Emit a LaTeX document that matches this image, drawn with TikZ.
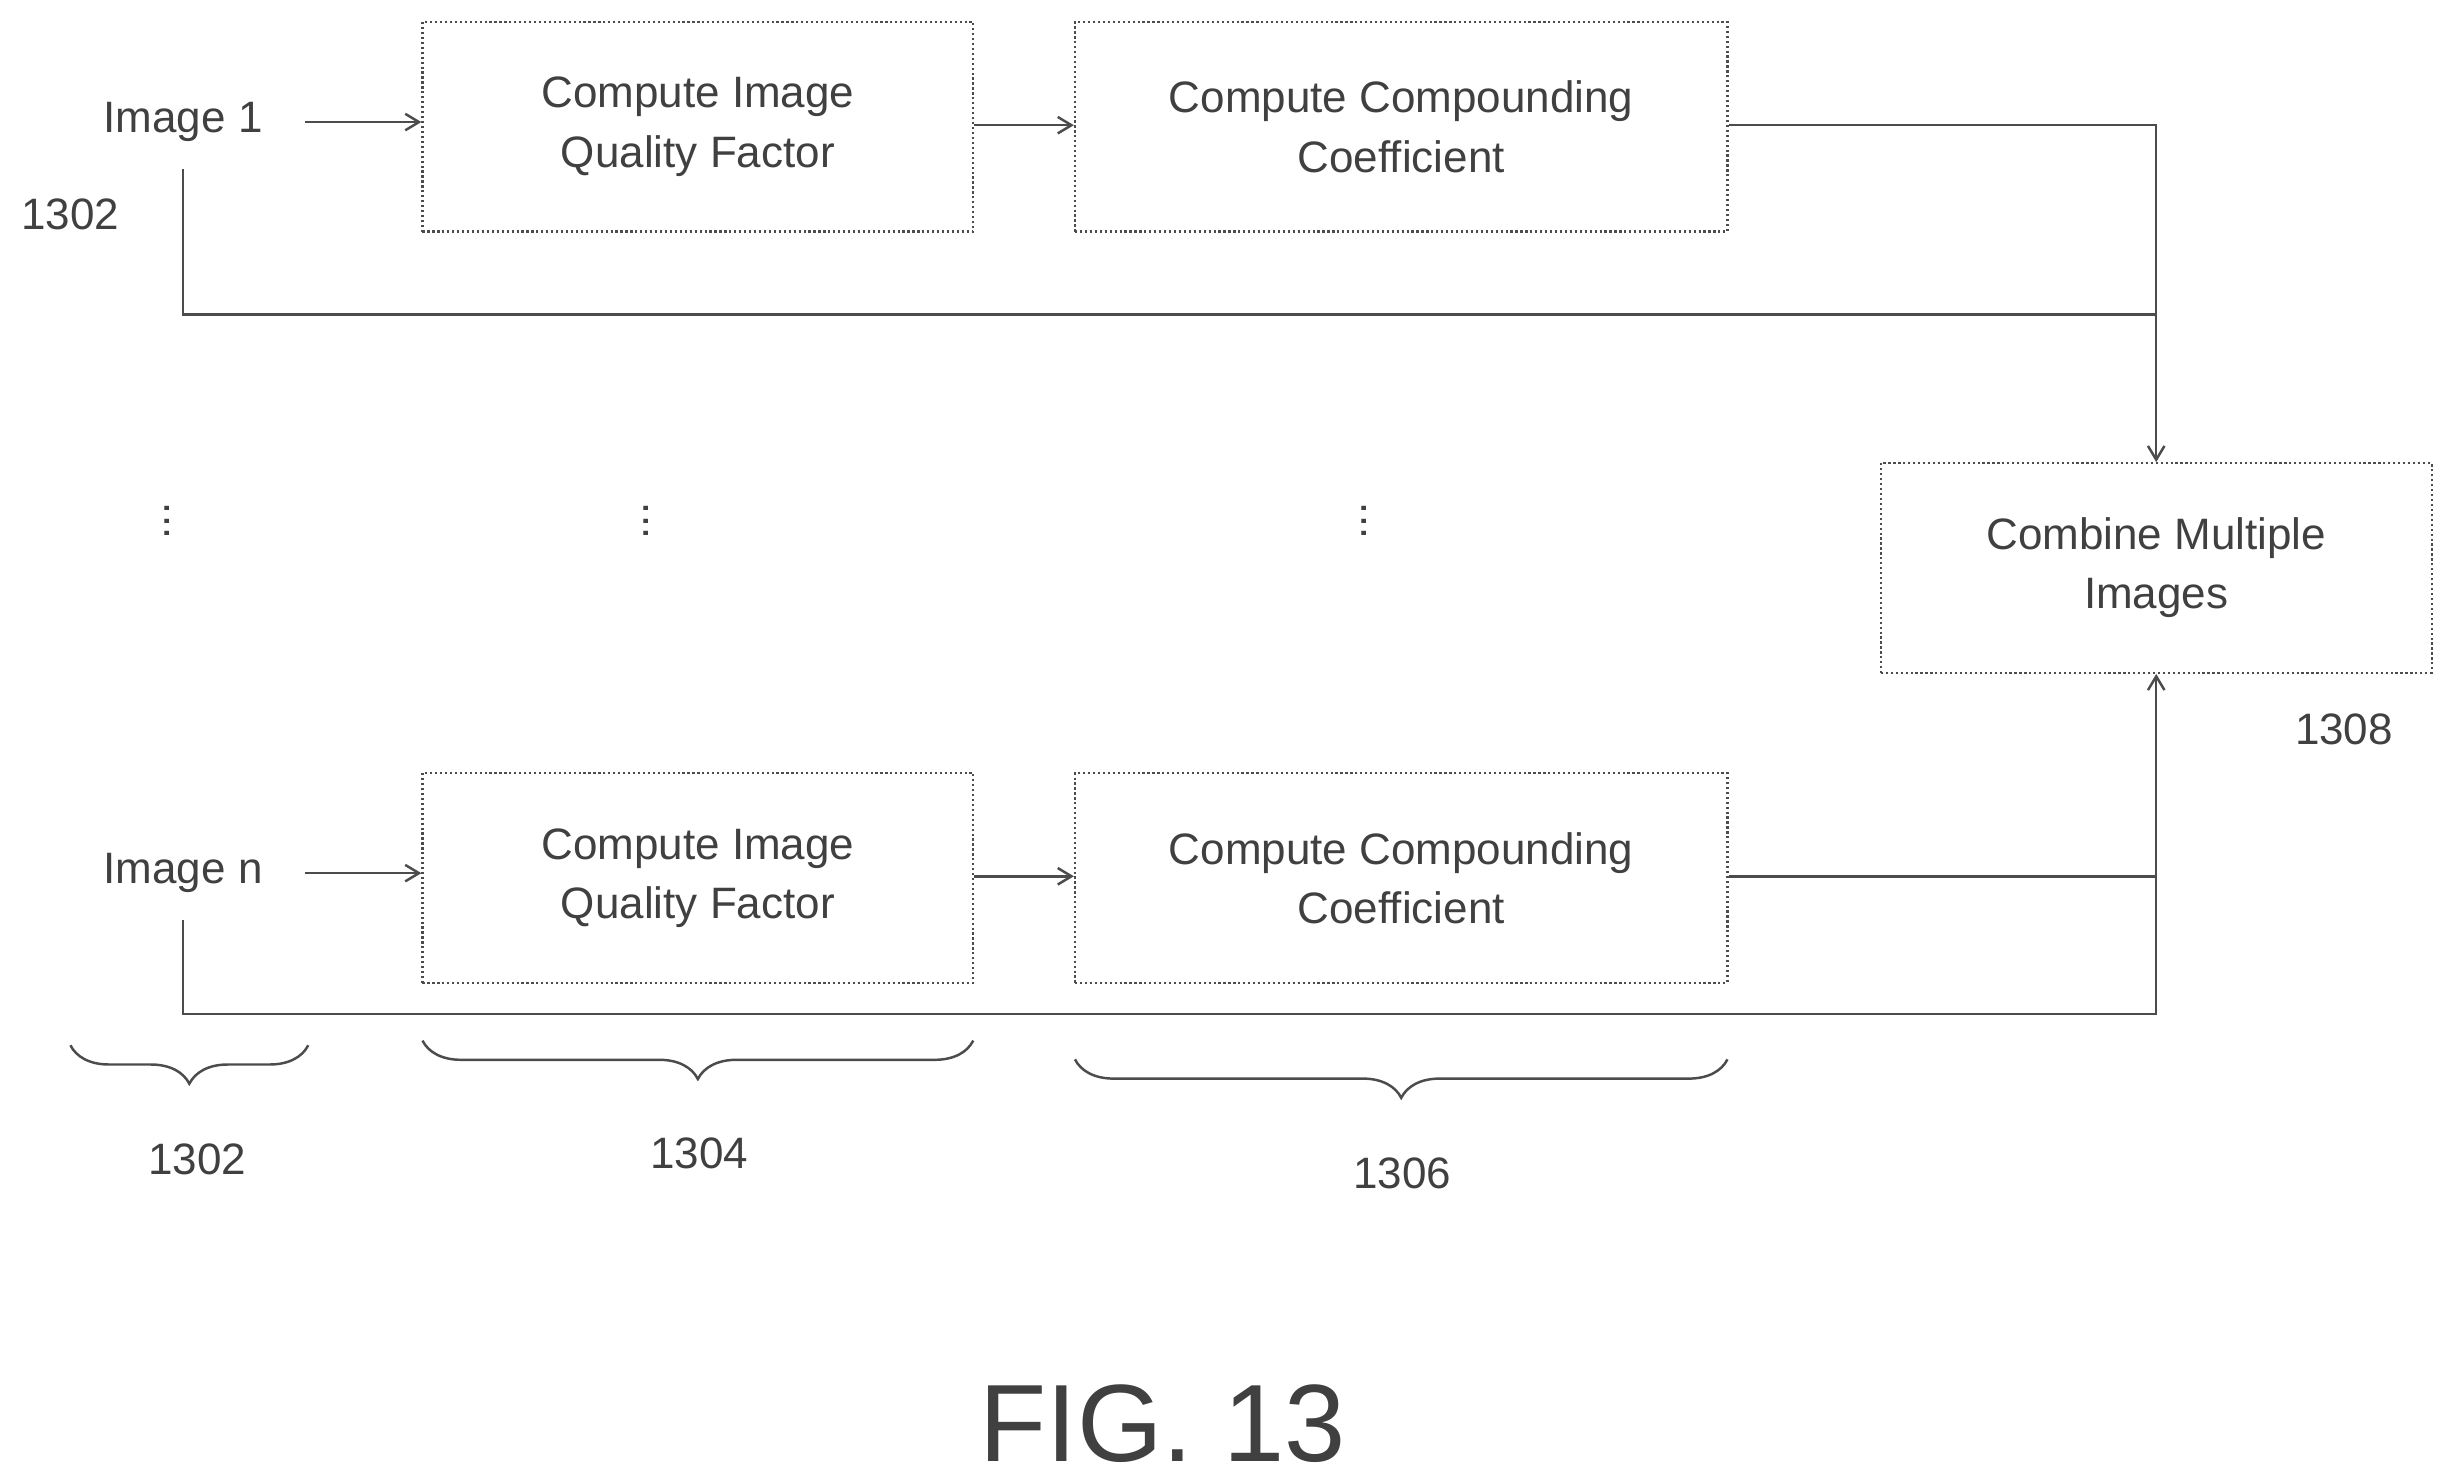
\documentclass[tikz,border=0pt]{standalone}
\usepackage{fontspec}
\setmainfont{Liberation Sans}
\usetikzlibrary{decorations.pathreplacing,arrows.meta}
\begin{document}
\begin{tikzpicture}[x=0.02cm,y=-0.02cm,
  box/.style={draw=black!70,line width=0.8pt,densely dotted,inner sep=0pt,align=center,font=\fontsize{16}{21.5}\selectfont,text=black!75},
  txt/.style={font=\fontsize{16}{19}\selectfont,text=black!75},
  ln/.style={draw=black!70,line width=0.9pt},
  arr/.style={ln,-{Straight Barb[length=5pt,width=6pt]}},
  br/.style={ln,decorate,decoration={brace,mirror,amplitude=14pt}}]
\useasboundingbox (0,0) rectangle (1560,947);
\node[box,minimum width=352*0.02cm,minimum height=134*0.02cm] (q1) at (446,81) {Compute Image\\Quality Factor};
\node[box,minimum width=417*0.02cm,minimum height=134*0.02cm] (c1) at (895.5,81) {Compute Compounding\\Coefficient};
\node[box,minimum width=352*0.02cm,minimum height=134*0.02cm] (qn) at (446,561) {Compute Image\\Quality Factor};
\node[box,minimum width=417*0.02cm,minimum height=134*0.02cm] (cn) at (895.5,561) {Compute Compounding\\Coefficient};
\node[box,minimum width=352*0.02cm,minimum height=134*0.02cm] (cm) at (1378,363) {Combine Multiple\\Images};
\node[txt] (i1) at (117,78) {Image 1};
\node[txt] (in) at (117,558) {Image n};
\node[txt] (l1) at (45,137) {1302};
\node[txt] (l8) at (1498,466) {1308};
\node[txt] (l2) at (126,741) {1302};
\node[txt] (l4) at (447,737) {1304};
\node[txt] (l6) at (896,750) {1306};
\node[font=\fontsize{40}{44}\selectfont,text=black!75] (fig) at (743,910) {FIG. 13};
\foreach \x/\n in {107/d1,413/d2,872/d3}{\node[txt] (\n) at (\x,333) {\rotatebox{90}{...}};}
\coordinate (s1) at (195,78);
\coordinate (sn) at (195,558);
\draw[arr] (s1) -- (q1.west|-s1);
\draw[arr] (sn) -- (qn.west|-sn);
\draw[arr] (q1.east|-0,80) -- (c1.west|-0,80);
\draw[arr] (qn.east|-0,560) -- (cn.west|-0,560);
\coordinate (t1) at (117,108); \coordinate (tn) at (117,588);
\draw[ln] (c1.east|-0,80) -- (1378,80) -- (1378,201);
\draw[arr] (t1) -- (117,201) -- (1378,201) -- (cm.north);
\draw[ln] (cn.east|-0,560) -- (1378,560);
\draw[arr] (tn) -- (117,648) -- (1378,648) -- (cm.south);
\draw[br] (45,668) -- (197,668);
\draw[br] (270,665) -- (622,665);
\draw[br] (687,677) -- (1104,677);
\end{tikzpicture}
\end{document}
